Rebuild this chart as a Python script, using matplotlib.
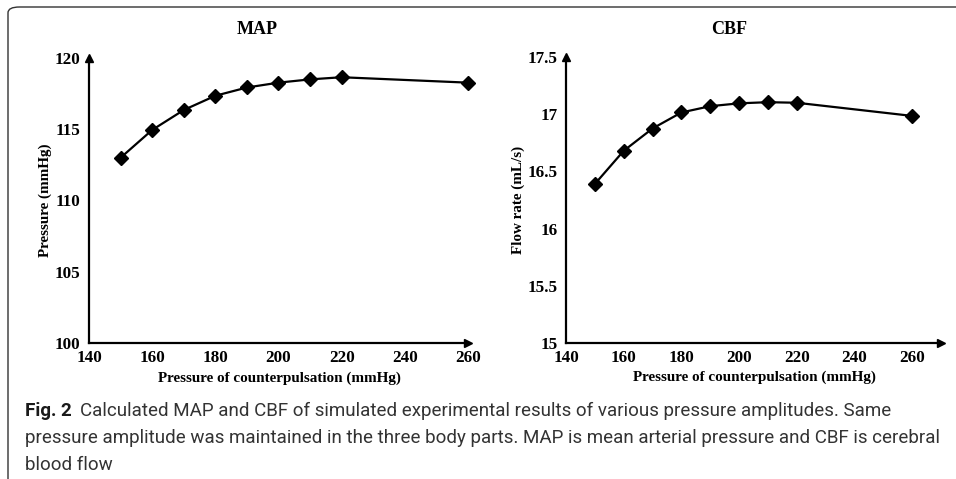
import matplotlib
matplotlib.use("Agg")
import matplotlib.pyplot as plt
from matplotlib.patches import FancyBboxPatch
from matplotlib import font_manager

# ---- data ----
counter_pressure = [150, 160, 170, 180, 190, 200, 210, 220, 260]
map_values = [113.0, 114.95, 116.35, 117.35, 117.93, 118.27, 118.5, 118.65, 118.27]
cbf_values = [16.39, 16.68, 16.875, 17.015, 17.07, 17.095, 17.105, 17.10, 16.985]
x_ticks = [140, 160, 180, 200, 220, 240, 260]
map_ticks = [100, 105, 110, 115, 120]
cbf_ticks = [15, 15.5, 16, 16.5, 17, 17.5]
cbf_tick_labels = ["15", "15.5", "16", "16.5", "17", "17.5"]
xlabel = "Pressure of counterpulsation (mmHg)"

W, H = 956, 479
fig = plt.figure(figsize=(W / 100, H / 100), dpi=100)
fig.patch.set_facecolor("white")

serif = ["Liberation Serif", "DejaVu Serif"]
tick_fs = 12.3
label_fs = 10.9


def px_ax(x0, x1, ytop, ybot):
    return [x0 / W, 1 - ybot / H, (x1 - x0) / W, (ybot - ytop) / H]


def style_axes(ax, xlim, ylim, yticks, ylabels):
    ax.set_xlim(*xlim)
    ax.set_ylim(*ylim)
    ax.spines["top"].set_visible(False)
    ax.spines["right"].set_visible(False)
    for s in ("left", "bottom"):
        ax.spines[s].set_linewidth(1.6)
    ax.set_xticks(x_ticks)
    ax.set_xticklabels([str(t) for t in x_ticks], fontfamily=serif,
                       fontweight="bold", fontsize=tick_fs)
    ax.set_yticks(yticks)
    ax.set_yticklabels(ylabels, fontfamily=serif, fontweight="bold",
                       fontsize=tick_fs)
    ax.tick_params(length=0, pad=6)
    ax.tick_params(axis="x", pad=5)
    ax.set_facecolor("none")
    ax.plot([1], [0], marker=">", color="black", markersize=6,
            transform=ax.transAxes, clip_on=False)
    ax.plot([0], [1], marker="^", color="black", markersize=6,
            transform=ax.transAxes, clip_on=False)


# left panel
ax1 = fig.add_axes(px_ax(89, 468, 58, 343))
ax1.plot(counter_pressure, map_values, color="black", lw=1.6,
         marker="D", markersize=7.2, clip_on=False)
style_axes(ax1, (140, 260), (100, 120), map_ticks,
           [str(t) for t in map_ticks])
ax1.set_ylabel("Pressure (mmHg)", fontfamily=serif, fontweight="bold",
               fontsize=label_fs, labelpad=2)

# right panel
ax2 = fig.add_axes(px_ax(566, 941, 57, 343))
ax2.plot(counter_pressure, cbf_values, color="black", lw=1.6,
         marker="D", markersize=7.2, clip_on=False)
style_axes(ax2, (140, 270), (15, 17.5), cbf_ticks, cbf_tick_labels)
ax2.set_ylabel("Flow rate (mL/s)", fontfamily=serif, fontweight="bold",
               fontsize=label_fs, labelpad=2)

# titles and x labels
fig.text(257 / W, 1 - 30 / H, "MAP", ha="center", va="center",
         fontfamily=serif, fontweight="bold", fontsize=13)
fig.text(729 / W, 1 - 30 / H, "CBF", ha="center", va="center",
         fontfamily=serif, fontweight="bold", fontsize=13)
fig.text(279 / W, 1 - 378 / H, xlabel, ha="center", va="center",
         fontfamily=serif, fontweight="bold", fontsize=label_fs)
fig.text(754 / W, 1 - 377 / H, xlabel, ha="center", va="center",
         fontfamily=serif, fontweight="bold", fontsize=label_fs)

# border (rounded, open on right and bottom)
border = FancyBboxPatch((8 / W, -30 / H), 2.0, (479 - 7 + 30) / H,
                        boxstyle="round,pad=0,rounding_size=0.012",
                        transform=fig.transFigure, facecolor="none",
                        edgecolor="#333333", linewidth=1.0, clip_on=False)
fig.patches.append(border)

# caption
available = {f.name for f in font_manager.fontManager.ttflist}
cap_font = [f for f in ["Liberation Sans Narrow", "Roboto", "DejaVu Sans"]
            if f in available or f == "DejaVu Sans"]
cap_lines = [
    "Calculated MAP and CBF of simulated experimental results of various pressure amplitudes. Same",
    "pressure amplitude was maintained in the three body parts. MAP is mean arterial pressure and CBF is cerebral",
    "blood flow",
]
x0 = 25 / W
renderer = fig.canvas.get_renderer()
probe = fig.text(x0, 0.5, cap_lines[1], fontfamily=cap_font, fontsize=14)
w = probe.get_window_extent(renderer=renderer).width
probe.remove()
cap_fs = min(16.5, 14 * 923 / w)

bold = fig.text(x0, 1 - 416 / H, "Fig. 2", fontfamily=cap_font,
                fontweight="bold", fontsize=cap_fs, va="baseline",
                color="#1a1a1a")
bb = bold.get_window_extent(renderer=renderer)
fig.text(bb.x1 / W + 8 / W, 1 - 416 / H, cap_lines[0], fontfamily=cap_font,
         fontsize=cap_fs, va="baseline", color="#333333")
fig.text(x0, 1 - 443 / H, cap_lines[1], fontfamily=cap_font,
         fontsize=cap_fs, va="baseline", color="#333333")
fig.text(x0, 1 - 470 / H, cap_lines[2], fontfamily=cap_font,
         fontsize=cap_fs, va="baseline", color="#333333")

fig.savefig("out.png", dpi=100, facecolor="white")
